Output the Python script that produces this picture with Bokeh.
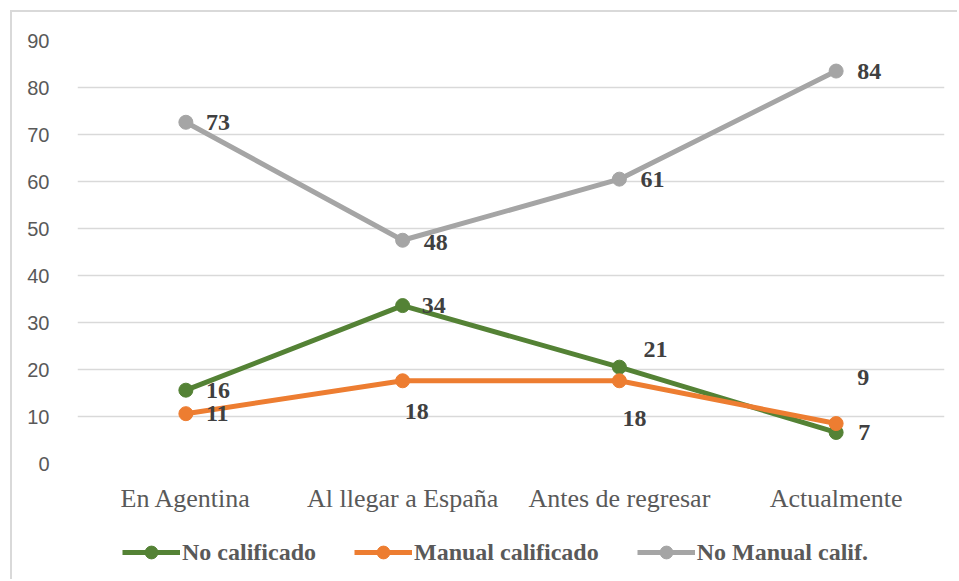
from bokeh.plotting import figure
from bokeh.layouts import column
from bokeh.models import Range1d, FactorRange, Legend, LegendItem, FixedTicker, ColumnDataSource
from bokeh.core.properties import value
from bokeh.embed import file_html
from bokeh.resources import INLINE

categories = ["En Agentina", "Al llegar a España", "Antes de regresar", "Actualmente"]

no_calificado = [15.6, 33.6, 20.5, 6.6]
no_calificado_labels = ["16", "34", "21", "7"]

manual_calificado = [10.6, 17.6, 17.6, 8.5]
manual_calificado_labels = ["11", "18", "18", "9"]

no_manual_calif = [72.6, 47.5, 60.5, 83.5]
no_manual_calif_labels = ["73", "48", "61", "84"]

y_ticks = [0, 10, 20, 30, 40, 50, 60, 70, 80, 90]

series = [
    ("No calificado", no_calificado, no_calificado_labels, "#548235",
     [20, 19, 24, 22], [0, 0, -18, 0]),
    ("Manual calificado", manual_calificado, manual_calificado_labels, "#ED7D31",
     [20, 2, 3, 21], [0, 31, 38, -46]),
    ("No Manual calif.", no_manual_calif, no_manual_calif_labels, "#A5A5A5",
     [20, 21, 21, 21], [0, 2, 0, 0]),
]

p = figure(
    x_range=FactorRange(*categories, range_padding=0),
    y_range=Range1d(0, 90),
    width=945, height=503,
    output_backend="svg", toolbar_location=None,
    min_border_left=65, min_border_right=13, min_border_top=28, min_border_bottom=50,
)
p.x_range.factor_padding = 0
p.outline_line_color = None
p.background_fill_color = "white"
p.border_fill_color = "white"

p.xgrid.grid_line_color = None
p.ygrid.grid_line_color = "#d9d9d9"
p.ygrid.grid_line_width = 1.5
p.yaxis.ticker = FixedTicker(ticks=y_ticks)

for ax in (p.xaxis, p.yaxis):
    ax.axis_line_color = None
    ax.major_tick_line_color = None
    ax.minor_tick_line_color = None
    ax.major_label_text_color = "#595959"

p.yaxis.major_label_text_font = "Liberation Sans"
p.yaxis.major_label_text_font_size = "20px"
p.yaxis.major_label_standoff = 22
p.xaxis.major_label_text_font = "Liberation Serif"
p.xaxis.major_label_text_font_size = "26px"
p.xaxis.major_label_standoff = 14

for name, vals, labels, color, xo, yo in series:
    src = ColumnDataSource(dict(x=categories, y=vals))
    p.line("x", "y", source=src, line_color=color, line_width=5)
    p.scatter("x", "y", source=src, size=14, fill_color=color, line_color=color)

for name, vals, labels, color, xo, yo in series:
    src = ColumnDataSource(dict(x=categories, y=vals, t=labels, xo=xo, yo=yo))
    p.text("x", "y", text="t", source=src, x_offset="xo", y_offset="yo",
           text_font=value("Liberation Serif"), text_font_style="bold",
           text_font_size="24px", text_color="#404040",
           text_align="left", text_baseline="middle")

# legend strip below the chart
lg = figure(width=945, height=64, output_backend="svg", toolbar_location=None,
            x_range=Range1d(0, 1), y_range=Range1d(0, 1),
            min_border_left=0, min_border_right=0, min_border_top=0, min_border_bottom=0)
lg.axis.visible = False
lg.grid.visible = False
lg.outline_line_color = None
items = []
for name, vals, labels, color, xo, yo in series:
    lr = lg.line(x=[-5, -4], y=[-5, -4], line_color=color, line_width=5)
    sr = lg.scatter(x=[-5], y=[-5], size=14, fill_color=color, line_color=color)
    items.append(LegendItem(label=name, renderers=[lr, sr]))

legend = Legend(items=items, orientation="horizontal", location=(45, 11))
legend.label_text_font = "Liberation Serif"
legend.label_text_font_style = "bold"
legend.label_text_font_size = "24px"
legend.label_text_color = "#595959"
legend.glyph_width = 58
legend.glyph_height = 32
legend.label_standoff = 2
legend.spacing = 38
legend.border_line_color = None
legend.background_fill_alpha = 0
legend.padding = 2
legend.margin = 0
lg.add_layout(legend)

layout = column(p, lg, spacing=0,
                styles={"border-left": "2px solid #d9d9d9",
                        "border-top": "2px solid #d9d9d9",
                        "margin-left": "10px", "margin-top": "10px"})

open("out.html", "w").write(file_html(layout, INLINE))
